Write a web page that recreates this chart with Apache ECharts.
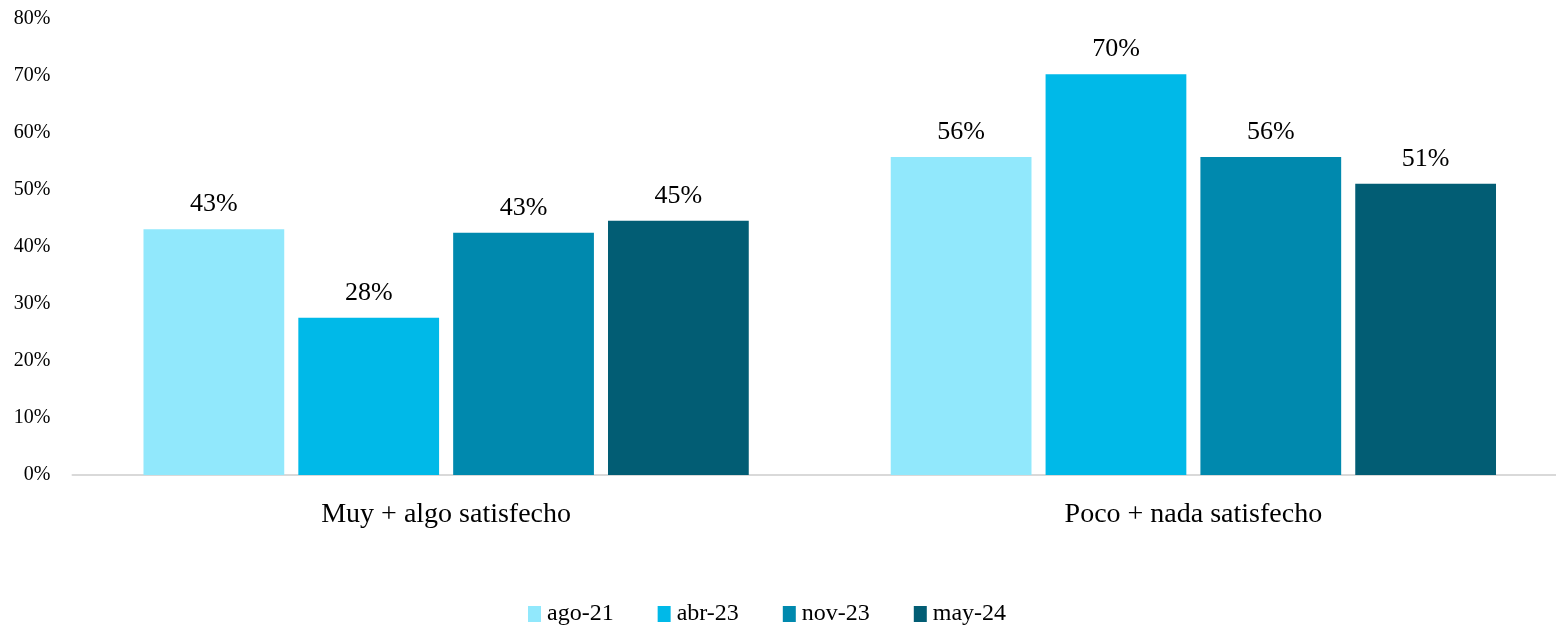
<!DOCTYPE html>
<html>
<head>
<meta charset="utf-8">
<script src="https://cdn.jsdelivr.net/npm/echarts@6/dist/echarts.min.js"></script>
<style>html,body{margin:0;padding:0;background:#fff;overflow:hidden;width:1556px;height:630px}#c{width:1567px;height:630px}</style>
</head>
<body>
<div id="c"></div>
<script>
const categories = ['Muy + algo satisfecho', 'Poco + nada satisfecho'];
const seriesNames = ['ago-21', 'abr-23', 'nov-23', 'may-24'];
const ago21 = [43.1, 55.8];
const abr23 = [27.6, 70.3];
const nov23 = [42.5, 55.8];
const may24 = [44.6, 51.1];
const yTicks = [0, 10, 20, 30, 40, 50, 60, 70, 80];
const colors = ['#91E8FC', '#00B9E8', '#0089AE', '#025D74'];
const font = "'Palatino Linotype','Book Antiqua','Liberation Serif',serif";
const values = [ago21, abr23, nov23, may24];

const chart = echarts.init(document.getElementById('c'));
chart.setOption({
  animation: false,
  textStyle: { fontFamily: font },
  grid: { left: 72.5, right: 0, top: 19, bottom: 155, containLabel: false },
  legend: {
    top: 597, left: 523,
    itemWidth: 13, itemHeight: 16, itemGap: 44,
    icon: 'rect',
    textStyle: { fontFamily: font, fontSize: 24, color: '#000', padding: [0, 0, 0, 1] },
    data: seriesNames
  },
  xAxis: {
    type: 'category', data: categories,
    axisLine: { lineStyle: { color: '#d9d9d9', width: 2 } },
    axisTick: { show: false },
    axisLabel: { fontFamily: font, fontSize: 28, color: '#000', margin: 26 }
  },
  yAxis: {
    type: 'value', min: yTicks[0], max: yTicks[yTicks.length - 1], interval: 10,
    splitLine: { show: false },
    axisLine: { show: false }, axisTick: { show: false },
    axisLabel: { fontFamily: font, fontSize: 20, color: '#000', margin: 22, formatter: v => v + '%' }
  },
  series: values.map((d, i) => ({
    name: seriesNames[i], type: 'bar', data: d,
    barGap: '10%', barCategoryGap: '19%',
    itemStyle: { color: colors[i] },
    label: { show: true, position: 'top', distance: 12, fontFamily: font, fontSize: 26, color: '#000',
      formatter: p => Math.round(p.value) + '%' }
  }))
});
</script>
</body>
</html>
